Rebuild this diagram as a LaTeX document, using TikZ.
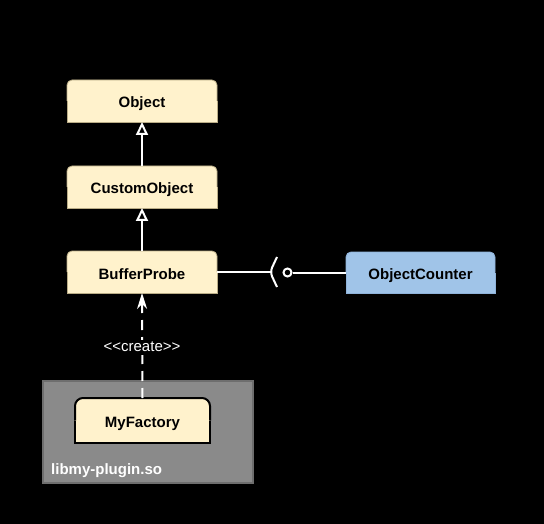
\documentclass[tikz,border=0pt]{standalone}
\usepackage{fontspec}
\setmainfont{Liberation Sans}
\usetikzlibrary{arrows.meta,backgrounds}
\definecolor{yel}{HTML}{FFF2CC}
\definecolor{yelborder}{HTML}{B9AC86}
\definecolor{blu}{HTML}{A0C4E8}
\definecolor{bluborder}{HTML}{8FB3DA}
\definecolor{contfill}{HTML}{8A8A8A}
\definecolor{contborder}{HTML}{6E6E6E}
\newcommand\topround[4]{% name, fill, draw options, radius
  \fill[#2, rounded corners=#4] (#1.south west) rectangle (#1.north east);
  \fill[#2] (#1.west) rectangle (#1.south east);
  \draw[#3, rounded corners=#4] (#1.west) |- (#1.north east) -- (#1.east);
  \draw[#3] (#1.west) -- (#1.south west) -- (#1.south east) -- (#1.east);
}
\begin{document}
\begin{tikzpicture}[x=1pt,y=-1pt,
  txt/.style={font=\fontsize{15pt}{18pt}\selectfont\bfseries},
  classbox/.style={txt, inner sep=0pt, outer sep=0pt, minimum width=150pt, minimum height=42pt, text=black, text height=14pt, text depth=0pt},
  wire/.style={draw=white, line width=2pt},
  inherit/.style={wire, -{Triangle[open, width=12pt, length=13pt, line width=2pt, fill=black]}},
  depend/.style={wire, dash pattern=on 10pt off 7pt, -{Stealth[width=10pt, length=16pt, inset=5pt]}},
]
\useasboundingbox (0,0) rectangle (544,524);

% nodes
\node[classbox] (obj) at (142,101) {Object};
\node[classbox] (cobj) at (142,187) {CustomObject};
\node[classbox] (bp) at (142,272) {BufferProbe};
\node[classbox, minimum width=149pt, minimum height=41pt] (oc) at (420.5,272.5) {ObjectCounter};
\node[inner sep=0pt, outer sep=0pt, minimum width=210pt, minimum height=102pt] (lib) at (148,432) {};
\node[classbox, minimum width=135pt, minimum height=45pt] (mf) at (142.5,420.5) {MyFactory};
\node[txt, text=white, anchor=base west, inner sep=0pt] (libl) at (51,474) {libmy-plugin.so};

\begin{pgfonlayer}{background}
  \fill[black] (0,0) rectangle (544,524);
  \fill[contfill] (lib.south west) rectangle (lib.north east);
  \draw[contborder, line width=1.5pt] (lib.south west) rectangle (lib.north east);
  \topround{obj}{yel}{yelborder, line width=0.8pt}{5pt}
  \topround{cobj}{yel}{yelborder, line width=0.8pt}{5pt}
  \topround{bp}{yel}{yelborder, line width=0.8pt}{5pt}
  \topround{oc}{blu}{bluborder, line width=0.8pt}{5pt}
  \topround{mf}{yel}{black, line width=2pt}{8pt}
\end{pgfonlayer}

% inheritance
\draw[inherit] (cobj.north) -- (obj.south);
\draw[inherit] (bp.north) -- (cobj.south);

% create dependency
\draw[depend] (mf.north) -- (bp.south);
\node[font=\fontsize{15pt}{18pt}\selectfont, text=white, fill=black, inner xsep=1pt, inner ysep=1pt, text height=11pt, text depth=2pt] (crl) at (142,347) {<\kern0pt<create>\kern0pt>};

% required / provided interface
\coordinate (sock) at (270.5,272);
\node[circle, draw=white, line width=2pt, fill=black, minimum size=8pt, inner sep=0pt] (ball) at (287.5,272.5) {};
\draw[wire] (bp.east) -- (sock);
\draw[wire, rounded corners=5pt] (277,257) -- (270,272) -- (277,287);
\draw[wire] (ball) -- (oc.west);
\end{tikzpicture}
\end{document}
